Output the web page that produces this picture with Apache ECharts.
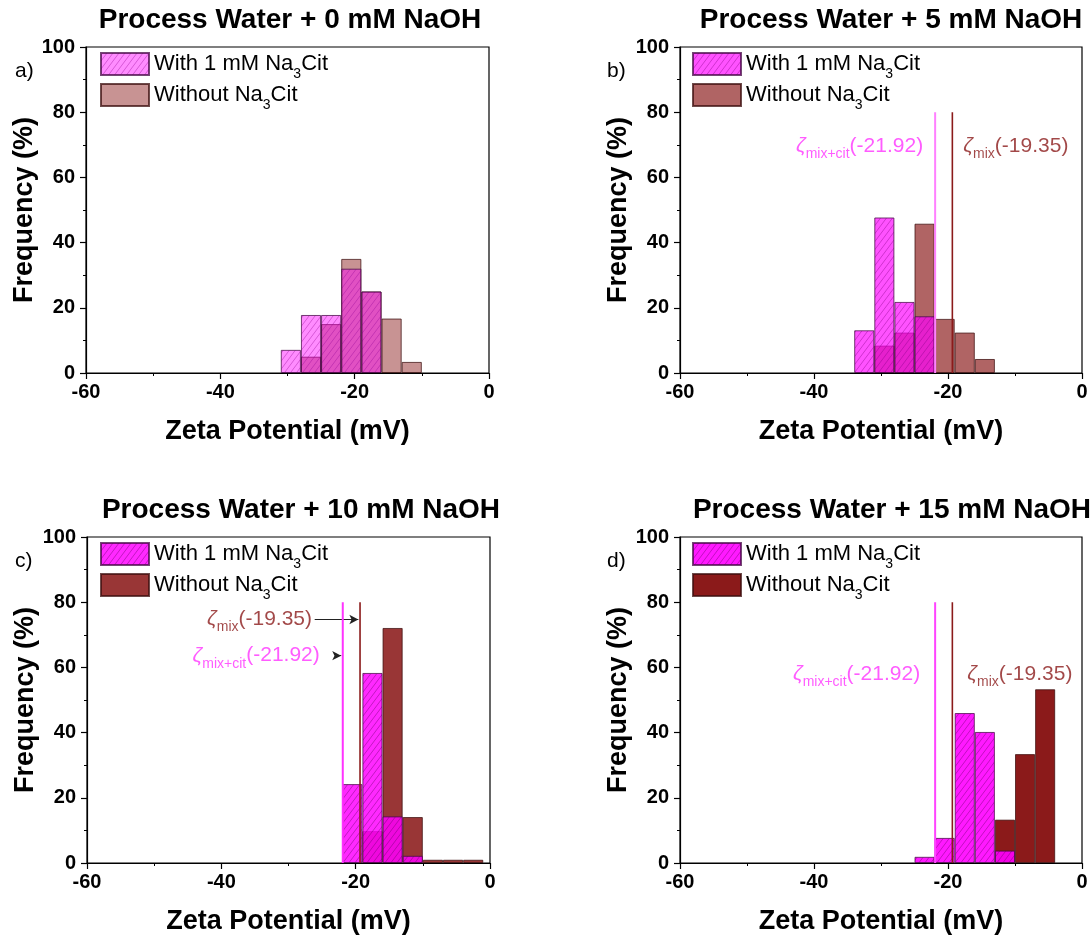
<!DOCTYPE html>
<html><head><meta charset="utf-8">
<script src="https://cdn.jsdelivr.net/npm/echarts@6/dist/echarts.min.js"></script>
<style>html,body{margin:0;padding:0;background:#fff}#chart{width:1092px;height:939px}</style>
</head><body><div id="chart"></div>
<script>
// ---------------- DATA ----------------
const panelTitles = ['Process Water + 0 mM NaOH', 'Process Water + 5 mM NaOH', 'Process Water + 10 mM NaOH', 'Process Water + 15 mM NaOH'];
const panelLetters = ['a)', 'b)', 'c)', 'd)'];
const legendWith = 'With 1 mM Na{s|3}Cit';
const legendWithout = 'Without Na{s|3}Cit';
const xAxisName = 'Zeta Potential (mV)';
const yAxisName = 'Frequency (%)';
const xMin = -60, xMax = 0, xStep = 20;
const yMin = 0, yMax = 100, yStep = 20;
const binWidth = 3; // mV, histogram bin width
// [bin centre (mV), frequency (%)]
const withCitA    = [[-29.5, 7.1], [-26.5, 17.8], [-23.5, 17.8], [-20.5, 32.0], [-17.5, 25.0]];
const withoutCitA = [[-26.5, 5.0], [-23.5, 15.0], [-20.5, 35.0], [-17.5, 25.0], [-14.5, 16.7], [-11.5, 3.4]];
const withCitB    = [[-32.5, 13.1], [-29.5, 47.7], [-26.5, 21.8], [-23.5, 17.4]];
const withoutCitB = [[-29.5, 8.4], [-26.5, 12.4], [-23.5, 45.8], [-20.5, 16.6], [-17.5, 12.4], [-14.5, 4.3]];
const withCitC    = [[-20.5, 24.2], [-17.5, 58.3], [-14.5, 14.3], [-11.5, 2.2]];
const withoutCitC = [[-17.5, 9.8], [-14.5, 72.1], [-11.5, 14.1], [-8.5, 1.0], [-5.5, 1.0], [-2.5, 1.0]];
const withCitD    = [[-23.5, 1.9], [-20.5, 7.7], [-17.5, 46.0], [-14.5, 40.2], [-11.5, 3.8]];
const withoutCitD = [[-11.5, 13.3], [-8.5, 33.4], [-5.5, 53.3]];
const zetaMixCit = -21.92;
const zetaMix = -19.35;
const zetaLineTop = 80;
// label heights (%) for zeta annotations in panels b, c, d: [mix+cit, mix]
const zetaLabelY = [null, [69.5, 69.5], [63.6, 74.7], [57.8, 57.8]];
// arrows in panel c: [x start, x end, y]
const arrowMix = [-26.1, -19.6, 74.7];
const arrowMixCit = [-23.0, -22.15, 63.6];

// ---------------- LAYOUT / STYLE ----------------
const FONT = 'Liberation Sans, Arial, sans-serif';
const grids = [
  {left: 86, top: 47, width: 403, height: 326},
  {left: 680, top: 47, width: 402, height: 326},
  {left: 87, top: 537, width: 403, height: 326},
  {left: 680, top: 537, width: 402, height: 326}
];
const titleCenters = [[290, 6], [891, 6], [301, 496], [892, 496]];
const letterPos = [[15, 61], [607, 61], [15, 551], [607, 551]];
const legendPos = [[100, 52], [692, 52], [100, 542], [692, 542]];
const styles = [
  {wf: 'rgba(255,0,255,0.45)', wh: 'rgba(150,0,150,0.38)', wo: 'rgba(139,26,26,0.47)', pl: '#ff88ff'},
  {wf: 'rgba(255,0,255,0.68)', wh: 'rgba(140,0,140,0.42)', wo: 'rgba(139,26,26,0.68)', pl: '#ff80ff'},
  {wf: 'rgba(255,0,255,0.84)', wh: 'rgba(120,0,120,0.45)', wo: 'rgba(139,26,26,0.88)', pl: '#ff33ff'},
  {wf: 'rgba(255,0,255,0.90)', wh: 'rgba(120,0,120,0.45)', wo: 'rgba(139,26,26,1)', pl: '#ff44ff'}
];
const pinkText = '#ff33ff';
const brownText = '#8b1a1a';

function hatch(fill, line) {
  const w = 6, h = 8;
  const c = document.createElement('canvas');
  c.width = w; c.height = h;
  const g = c.getContext('2d');
  g.fillStyle = fill; g.fillRect(0, 0, w, h);
  g.strokeStyle = line; g.lineWidth = 1;
  for (let k = -1; k <= 1; k++) {
    g.beginPath(); g.moveTo(k * w, h); g.lineTo(k * w + w, 0); g.stroke();
  }
  return {image: c, repeat: 'repeat'};
}

const withData = [withCitA, withCitB, withCitC, withCitD];
const withoutData = [withoutCitA, withoutCitB, withoutCitC, withoutCitD];

const zetaRich = (color) => ({
  z: {fontSize: 21, fontStyle: 'italic', color: color, lineHeight: 30, fontFamily: FONT},
  s: {fontSize: 14, color: color, lineHeight: 14, verticalAlign: 'bottom', fontFamily: FONT},
  n: {fontSize: 21, color: color, lineHeight: 30, fontFamily: FONT}
});

const option = {
  animation: false,
  backgroundColor: '#fff',
  textStyle: {fontFamily: FONT},
  title: [],
  grid: [],
  xAxis: [],
  yAxis: [],
  legend: [],
  series: []
};

for (let i = 0; i < 4; i++) {
  const g = grids[i];
  option.grid.push({left: g.left, top: g.top, width: g.width, height: g.height, show: true, borderColor: '#000', borderWidth: 1.2, backgroundColor: 'transparent'});
  option.title.push({text: panelTitles[i], left: titleCenters[i][0], top: titleCenters[i][1], textAlign: 'center', padding: 0,
    textStyle: {fontSize: 28, fontWeight: 'bold', color: '#000', fontFamily: FONT}});
  option.title.push({text: panelLetters[i], left: letterPos[i][0], top: letterPos[i][1], padding: 0,
    textStyle: {fontSize: 21, fontWeight: 'normal', color: '#000', fontFamily: FONT}});
  option.xAxis.push({
    type: 'value', gridIndex: i, min: xMin, max: xMax, interval: xStep,
    name: xAxisName, nameLocation: 'middle', nameGap: 45,
    nameTextStyle: {fontSize: 27, fontWeight: 'bold', color: '#000', fontFamily: FONT},
    axisLine: {show: true, onZero: false, lineStyle: {color: '#000', width: 1.2}},
    axisTick: {show: true, inside: false, length: 6, lineStyle: {color: '#000', width: 1.2}},
    minorTick: {show: true, splitNumber: 2, length: 3, lineStyle: {color: '#000', width: 1}},
    splitLine: {show: false},
    axisLabel: {margin: 9, fontSize: 20, fontWeight: 'bold', color: '#000', fontFamily: FONT}
  });
  option.yAxis.push({
    type: 'value', gridIndex: i, min: yMin, max: yMax, interval: yStep,
    name: yAxisName, nameLocation: 'middle', nameGap: 47,
    nameTextStyle: {fontSize: 27, fontWeight: 'bold', color: '#000', fontFamily: FONT},
    axisLine: {show: true, onZero: false, lineStyle: {color: '#000', width: 1.2}},
    axisTick: {show: true, inside: false, length: 6, lineStyle: {color: '#000', width: 1.2}},
    minorTick: {show: true, splitNumber: 2, length: 3, lineStyle: {color: '#000', width: 1}},
    splitLine: {show: false},
    axisLabel: {margin: 11, fontSize: 20, fontWeight: 'bold', color: '#000', fontFamily: FONT}
  });
  const nameWith = 'with_' + i, nameWithout = 'without_' + i;
  option.legend.push({
    data: [nameWith, nameWithout], left: legendPos[i][0], top: legendPos[i][1], orient: 'vertical',
    padding: 0, itemWidth: 48, itemHeight: 22, itemGap: 2, icon: 'rect', selectedMode: false,
    formatter: (n) => n.startsWith('with_') ? legendWith : legendWithout,
    textStyle: {fontSize: 22, color: '#000', fontFamily: FONT,
      rich: {s: {fontSize: 14, verticalAlign: 'bottom', lineHeight: 14, padding: [0, 0, -6, 0], fontFamily: FONT}}}
  });
  const bw = binWidth * g.width / (xMax - xMin);
  option.series.push({
    type: 'bar', name: nameWithout, xAxisIndex: i, yAxisIndex: i, data: withoutData[i],
    barWidth: bw, barGap: '-100%', z: 2,
    itemStyle: {color: styles[i].wo, borderColor: 'rgba(60,15,15,0.75)', borderWidth: 1}
  });
  option.series.push({
    type: 'bar', name: nameWith, xAxisIndex: i, yAxisIndex: i, data: withData[i],
    barWidth: bw, barGap: '-100%', z: 3,
    itemStyle: {color: hatch(styles[i].wf, styles[i].wh), borderColor: 'rgba(70,10,70,0.75)', borderWidth: 1}
  });
  if (i > 0) {
    option.series.push({
      type: 'line', name: 'zmc_line_' + i, xAxisIndex: i, yAxisIndex: i, z: 5, silent: true,
      symbol: 'none', data: [[zetaMixCit, 0], [zetaMixCit, zetaLineTop]],
      lineStyle: {color: styles[i].pl, width: 2}
    });
    option.series.push({
      type: 'line', name: 'zm_line_' + i, xAxisIndex: i, yAxisIndex: i, z: 5, silent: true,
      symbol: 'none', data: [[zetaMix, 0], [zetaMix, zetaLineTop]],
      lineStyle: {color: brownText, width: 1.6}
    });
    const distMC = [0, 12, 23, 15][i];
    const distM = [0, 11, 48, 15][i];
    option.series.push({
      type: 'scatter', name: 'zmc_lab_' + i, xAxisIndex: i, yAxisIndex: i, z: 6, silent: true,
      symbolSize: 0, data: [[zetaMixCit, zetaLabelY[i][0]]],
      label: {show: true, position: 'left', distance: distMC,
        formatter: () => '{z|ζ}{s|mix+cit}{n|(-21.92)}', rich: zetaRich(pinkText)}
    });
    option.series.push({
      type: 'scatter', name: 'zm_lab_' + i, xAxisIndex: i, yAxisIndex: i, z: 6, silent: true,
      symbolSize: 0, data: [[zetaMix, zetaLabelY[i][1]]],
      label: {show: true, position: i === 2 ? 'left' : 'right', distance: distM,
        formatter: () => '{z|ζ}{s|mix}{n|(-19.35)}', rich: zetaRich(brownText)},
      markLine: i === 2 ? {
        silent: true, symbol: ['none', 'arrow'], symbolSize: [7, 9],
        lineStyle: {color: '#222', width: 1, type: 'solid'}, label: {show: false},
        data: [
          [{coord: [arrowMix[0], arrowMix[2]]}, {coord: [arrowMix[1], arrowMix[2]]}],
          [{coord: [arrowMixCit[0], arrowMixCit[2]]}, {coord: [arrowMixCit[1], arrowMixCit[2]]}]
        ]
      } : undefined
    });
  }
}

const chart = echarts.init(document.getElementById('chart'), null, {renderer: 'canvas'});
chart.setOption(option);
</script>
</body></html>
